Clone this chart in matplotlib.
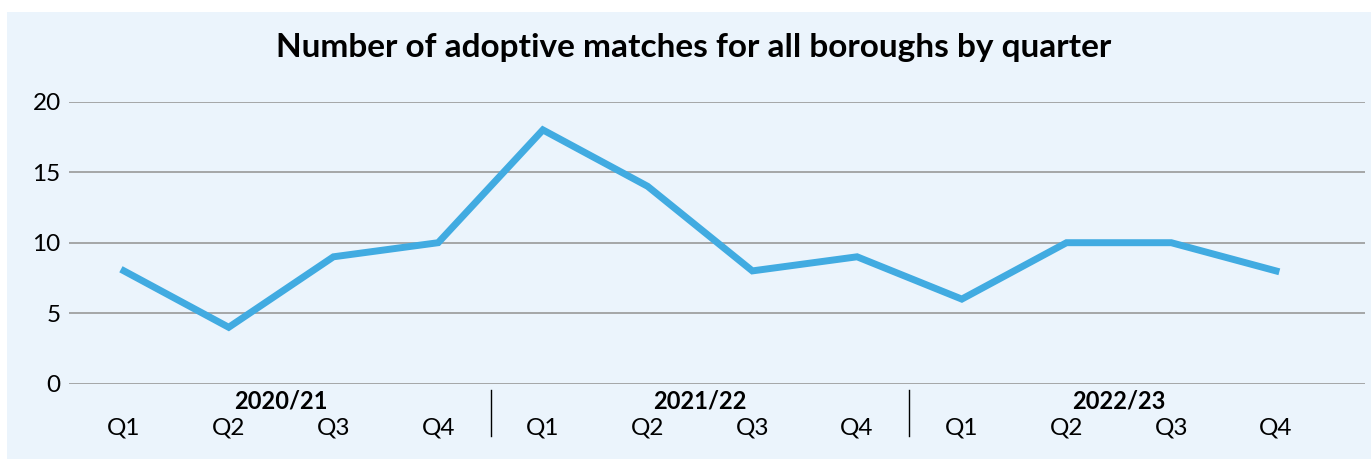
import matplotlib.pyplot as plt
from matplotlib.patches import Rectangle

# data
quarters = ["Q1", "Q2", "Q3", "Q4"] * 3
years = ["2020/21", "2021/22", "2022/23"]
matches = [8, 4, 9, 10, 18, 14, 8, 9, 6, 10, 10, 8]

plt.rcParams['font.family'] = ['Lato', 'DejaVu Sans']

fig = plt.figure(figsize=(13.71, 4.59), dpi=100, facecolor='white')
# light blue panel
fig.patches.append(Rectangle((7 / 1371, 0), 1, 1 - 12 / 459, transform=fig.transFigure,
                             facecolor='#EBF4FC', edgecolor='none', zorder=-10))

ax = fig.add_axes([69 / 1371, 75.3 / 459, (1365 - 69) / 1371, 282 / 459])
ax.set_facecolor('none')
ax.set_zorder(1)

x = list(range(len(matches)))
ax.plot(x, matches, color='#41ABE1', lw=5, solid_joinstyle='miter', zorder=3)

ax.set_ylim(0, 20)
ax.set_xlim(-0.525, 11.85)
ax.set_yticks([0, 5, 10, 15, 20])
ax.grid(axis='y', color='#999999', lw=1.2)
ax.set_axisbelow(True)
for s in ax.spines.values():
    s.set_visible(False)

ax.set_xticks(x)
ax.set_xticklabels(quarters, fontsize=17.5)
ax.tick_params(axis='x', length=0, pad=24)
ax.tick_params(axis='y', length=0, pad=6, labelsize=17.5)

tr = ax.get_xaxis_transform()
for i, yr in enumerate(years):
    ax.text(4 * i + 1.5, -0.062, yr, transform=tr, ha='center', va='center',
            fontsize=17, fontweight='bold')
for d in [3.5, 7.5]:
    ax.plot([d, d], [-0.022, -0.186], transform=tr, color='black', lw=1, clip_on=False)

fig.text(694 / 1371, 1 - 48 / 459, "Number of adoptive matches for all boroughs by quarter",
         ha='center', va='center', fontsize=24, fontweight='bold')

fig.savefig('out.png', dpi=100, facecolor='white')
